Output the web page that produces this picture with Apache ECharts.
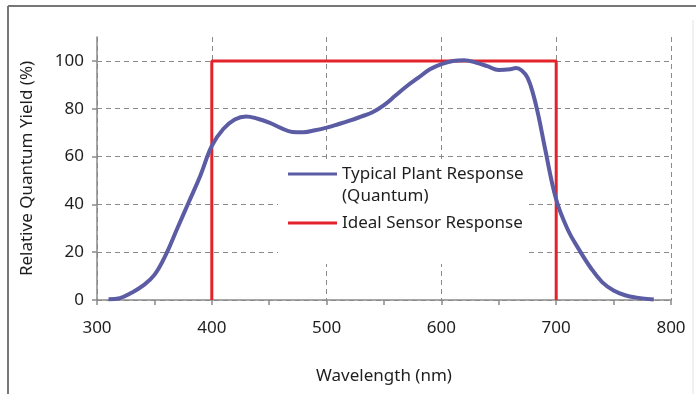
<!DOCTYPE html>
<html>
<head>
<meta charset="utf-8">
<script src="https://cdn.jsdelivr.net/npm/echarts@6/dist/echarts.min.js"></script>
<style>
  html, body { margin: 0; padding: 0; background: #fff; }
  #main { width: 696px; height: 394px; }
</style>
</head>
<body>
<div id="main"></div>
<script>
// wavelength (nm) and relative quantum yield (%)
var plantWave = [310, 320, 330, 340, 350, 360, 370, 380, 390, 400, 410, 420, 430, 440, 450, 460, 470, 480, 490, 500,
                 510, 520, 530, 540, 550, 560, 570, 580, 590, 600, 610, 620, 630, 640, 650, 660, 665, 670, 675, 680,
                 685, 690, 700, 710, 720, 730, 740, 750, 760, 770, 785];
var plantYield = [0.3, 0.8, 3, 6, 10.5, 19, 30, 41, 52, 64.5, 71.5, 75.5, 76.8, 75.8, 74.2, 72, 70.3, 70.2, 71, 72.1,
                  73.5, 75, 76.7, 78.5, 81.5, 85.5, 89.5, 93, 96.5, 98.7, 100, 100.3, 99.3, 97.8, 96.2, 96.5, 97, 96, 93, 86,
                  76, 64, 42, 29.5, 21, 13.5, 7.5, 4, 2, 1, 0.2];

var idealWave = [400, 400, 700, 700];
var idealYield = [0, 100, 100, 0];

var yTicks = [0, 20, 40, 60, 80, 100];

var plantName = 'Typical Plant Response\n(Quantum)';
var idealName = 'Ideal Sensor Response';

function pairs(xs, ys) {
  var out = [];
  for (var i = 0; i < xs.length; i++) out.push([xs[i], ys[i]]);
  return out;
}

var myChart = echarts.init(document.getElementById('main'));

var font = '"Noto Sans", sans-serif';
var txt = '#1e1e1e';
var axisGray = '#8a8a8a';
var dash = { color: '#8a8a8a', width: 1, type: [5, 4] };

var option = {
  backgroundColor: '#fff',
  animation: false,
  grid: { left: 97, right: 25, top: 37, bottom: 94, containLabel: false },
  graphic: [
    { type: 'line', shape: { x1: 8, y1: 6, x2: 696, y2: 6 }, style: { stroke: '#777', lineWidth: 2 } },
    { type: 'line', shape: { x1: 8, y1: 6, x2: 8, y2: 394 }, style: { stroke: '#777', lineWidth: 2 } },
    { type: 'line', shape: { x1: 693, y1: 20, x2: 693, y2: 394 }, style: { stroke: '#e2e2e2', lineWidth: 1 } },
    // white legend box hiding the grid lines behind it
    { type: 'rect', z: 1, shape: { x: 278, y: 159, width: 249, height: 105 }, style: { fill: '#fff' } }
  ],
  legend: {
    orient: 'vertical',
    left: 288,
    top: 141,
    padding: 0,
    itemGap: 5,
    itemWidth: 49,
    itemHeight: 14,
    icon: 'path://M0,5.5 L49,5.5 L49,8.5 L0,8.5 Z',
    // leading blank line keeps the icon level with the first text line
    formatter: function (name) { return name === plantName ? '\n' + name : name; },
    textStyle: { fontFamily: font, fontSize: 17, color: txt, lineHeight: 22 },
    data: [plantName, idealName]
  },
  xAxis: {
    type: 'value',
    min: 300,
    max: 800,
    interval: 100,
    name: 'Wavelength (nm)',
    nameLocation: 'middle',
    nameGap: 68,
    nameTextStyle: { fontFamily: font, fontSize: 17, color: txt },
    axisLine: { lineStyle: { color: axisGray, width: 1.5 } },
    axisTick: { show: true, length: 5, lineStyle: { color: axisGray, width: 1.5 } },
    minorTick: { show: true, splitNumber: 2, length: 5, lineStyle: { color: axisGray, width: 1.5 } },
    axisLabel: { fontFamily: font, fontSize: 17, color: txt, margin: 20 },
    splitLine: { show: true, lineStyle: dash }
  },
  yAxis: {
    type: 'value',
    min: 0,
    max: 110,
    interval: 20,
    name: 'Relative Quantum Yield (%)',
    nameLocation: 'middle',
    nameGap: 61,
    nameTextStyle: { fontFamily: font, fontSize: 17, color: txt },
    axisLine: { show: true, lineStyle: { color: axisGray, width: 1.5 } },
    axisTick: { show: true, length: 5, customValues: yTicks, lineStyle: { color: axisGray, width: 1.5 } },
    axisLabel: { fontFamily: font, fontSize: 17, color: txt, margin: 13, customValues: yTicks },
    splitLine: { show: true, lineStyle: dash }
  },
  series: [
    {
      name: idealName,
      type: 'line',
      data: pairs(idealWave, idealYield),
      showSymbol: false,
      lineStyle: { color: '#e3232c', width: 3 },
      itemStyle: { color: '#e3232c' },
      z: 2
    },
    {
      name: plantName,
      type: 'line',
      data: pairs(plantWave, plantYield),
      smooth: 0.4,
      showSymbol: false,
      lineStyle: { color: '#5b5ca3', width: 4 },
      itemStyle: { color: '#5b5ca3' },
      z: 3
    }
  ]
};

myChart.setOption(option);
</script>
</body>
</html>
